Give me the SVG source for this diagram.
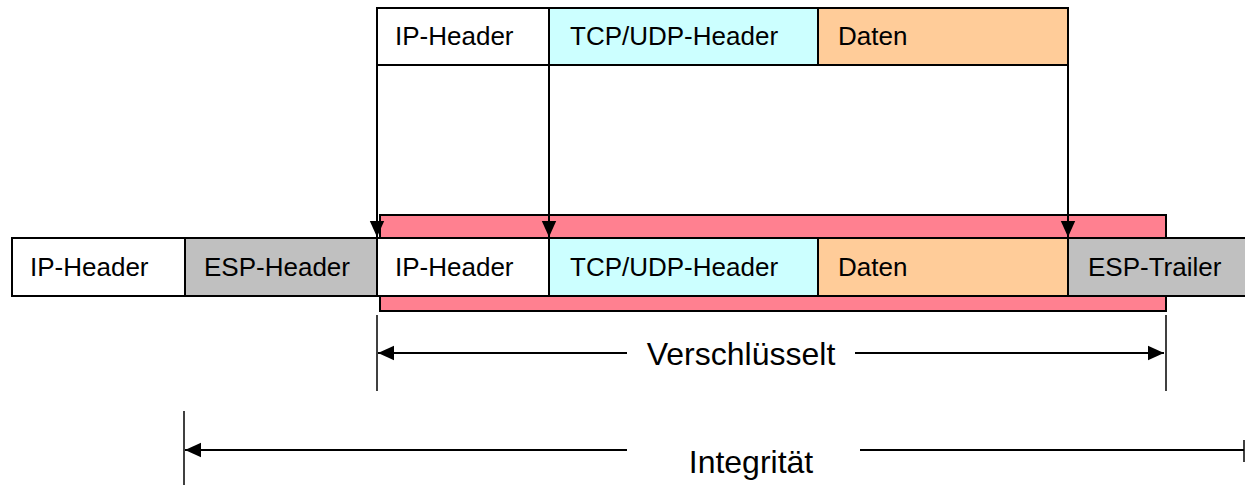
<svg xmlns="http://www.w3.org/2000/svg" width="1245" height="486" viewBox="0 0 1245 486">
  <style>
    .cell { stroke: #000; stroke-width: 2; }
    .white { fill: #FFFFFF; }
    .cyan { fill: #CCFFFF; }
    .orange { fill: #FFCC99; }
    .gray { fill: #C0C0C0; }
    .lbl { font-family: "Liberation Sans", Arial, sans-serif; font-size: 26px; fill: #000; }
    .dim { font-family: "Liberation Sans", Arial, sans-serif; font-size: 32px; fill: #000; }
    .line { stroke: #000; stroke-width: 2; fill: none; }
    .tick { stroke: #000; stroke-width: 1.5; fill: none; }
  </style>
  <defs>
    <marker id="arrow" viewBox="0 0 10 10" refX="10" refY="5" markerWidth="8" markerHeight="8" markerUnits="strokeWidth" orient="auto">
      <path d="M0,0.5 L10,5 L0,9.5 z" fill="#000"/>
    </marker>
  </defs>

  <rect width="1245" height="486" fill="#FFFFFF"/>

  <!-- original packet -->
  <g id="orig-packet">
    <rect class="cell white" x="377" y="8" width="172" height="57"/>
    <rect class="cell cyan" x="549" y="8" width="269" height="57"/>
    <rect class="cell orange" x="818" y="8" width="250" height="57"/>
    <text class="lbl" x="395" y="45">IP-Header</text>
    <text class="lbl" x="570" y="45">TCP/UDP-Header</text>
    <text class="lbl" x="838" y="45">Daten</text>
  </g>

  <!-- encrypted region -->
  <g id="encrypted-area">
    <rect class="cell" x="380" y="215" width="786" height="96" fill="#FF8090"/>
  </g>

  <!-- ESP packet -->
  <g id="esp-packet">
    <rect class="cell white" x="12" y="238" width="173" height="58"/>
    <rect class="cell gray" x="185" y="238" width="192" height="58"/>
    <rect class="cell white" x="377" y="238" width="172" height="58"/>
    <rect class="cell cyan" x="549" y="238" width="269" height="58"/>
    <rect class="cell orange" x="818" y="238" width="250" height="58"/>
    <rect class="cell gray" x="1068" y="238" width="180" height="58"/>
    <text class="lbl" x="30" y="276">IP-Header</text>
    <text class="lbl" x="204" y="276">ESP-Header</text>
    <text class="lbl" x="395" y="276">IP-Header</text>
    <text class="lbl" x="570" y="276">TCP/UDP-Header</text>
    <text class="lbl" x="838" y="276">Daten</text>
    <text class="lbl" x="1088" y="276">ESP-Trailer</text>
  </g>

  <!-- connectors -->
  <g id="connectors">
    <line class="line" x1="377" y1="65" x2="377" y2="237" marker-end="url(#arrow)"/>
    <line class="line" x1="549" y1="65" x2="549" y2="237" marker-end="url(#arrow)"/>
    <line class="line" x1="1068" y1="65" x2="1068" y2="237" marker-end="url(#arrow)"/>
  </g>

  <!-- span: Verschlüsselt -->
  <g id="span-encrypted">
    <line class="tick" x1="377" y1="315" x2="377" y2="391"/>
    <line class="tick" x1="1166" y1="315" x2="1166" y2="391"/>
    <line class="line" x1="627" y1="353" x2="378" y2="353" marker-end="url(#arrow)"/>
    <line class="line" x1="855" y1="353" x2="1164" y2="353" marker-end="url(#arrow)"/>
    <text class="dim" x="741" y="365" text-anchor="middle">Verschlüsselt</text>
  </g>

  <!-- span: Integrität -->
  <g id="span-integrity">
    <line class="tick" x1="184" y1="411" x2="184" y2="485"/>
    <line class="tick" x1="1244" y1="440" x2="1244" y2="462"/>
    <line class="line" x1="627" y1="450" x2="185" y2="450" marker-end="url(#arrow)"/>
    <line class="line" x1="860" y1="450" x2="1244" y2="450"/>
    <text class="dim" x="751" y="473" text-anchor="middle">Integrität</text>
  </g>
</svg>
